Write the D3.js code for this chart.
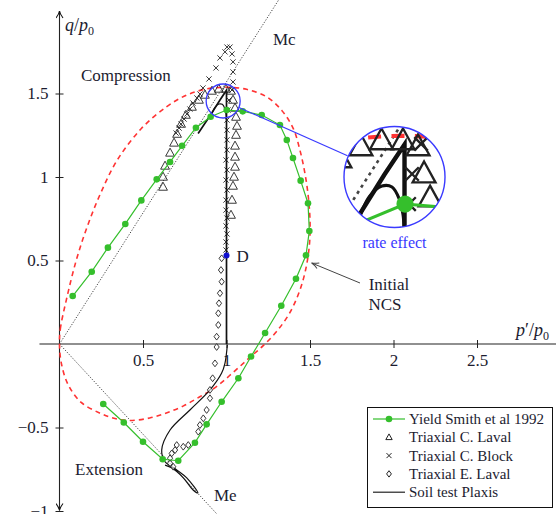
<!DOCTYPE html>
<html><head><meta charset="utf-8">
<script src="https://cdn.jsdelivr.net/npm/d3@7/dist/d3.min.js"></script>
<style>
html,body{margin:0;padding:0;background:#fff;}
svg{display:block;font-family:"Liberation Serif","DejaVu Serif",serif;}
</style></head><body>
<svg id="chart" width="556" height="514"></svg>
<script>
// ---------- data ----------
const xTicks=[0.5,1,1.5,2,2.5];
const xTickLabels=["0.5","1","1.5","2","2.5"];
const yTicks=[1.5,1,0.5,-0.5,-1];
const yTickLabels=["1.5","1","0.5","\u22120.5","\u22121"];
const McSlope=1.57, MeSlope=-1.08;
const McEnd=1.33, MeEnd=0.96;

const yieldSmith=[[0.079,0.287],[0.193,0.433],[0.290,0.577],[0.394,0.719],[0.490,0.860],[0.582,0.986],
 [0.662,1.090],[0.734,1.187],[0.817,1.295],[0.905,1.361],[1.001,1.401],[1.097,1.393],[1.211,1.371],
 [1.320,1.311],[1.361,1.222],[1.398,1.114],[1.444,0.978],[1.488,0.843],[1.496,0.677],[1.476,0.531],
 [1.416,0.391],[1.328,0.229],[1.231,0.066],[1.147,-0.075],[1.071,-0.205],[0.971,-0.346],[0.881,-0.481],
 [0.811,-0.591],[0.711,-0.699],[0.618,-0.690],[0.50,-0.585],[0.385,-0.470],[0.262,-0.359]];

const initialNCS=[[0,0],[0.005,0.09],[0.04,0.26],[0.10,0.50],[0.165,0.70],[0.245,0.90],[0.345,1.10],
 [0.49,1.29],[0.64,1.42],[0.76,1.49],[0.88,1.527],[1.0,1.537],[1.12,1.525],[1.24,1.48],[1.33,1.40],
 [1.40,1.29],[1.44,1.16],[1.47,1.02],[1.49,0.88],[1.50,0.74],[1.497,0.60],[1.475,0.45],[1.435,0.31],
 [1.375,0.18],[1.30,0.075],[1.22,-0.01],[1.14,-0.08],[1.04,-0.17],[0.94,-0.255],[0.84,-0.316],
 [0.74,-0.372],[0.64,-0.413],[0.54,-0.443],[0.42,-0.458],[0.32,-0.443],[0.24,-0.413],[0.13,-0.35],
 [0.05,-0.24],[0.01,-0.11]];

const triaxCLaval=[[0.620,0.940],[0.620,1.000],[0.632,1.066],[0.662,1.144],[0.686,1.204],[0.704,1.257],
 [0.728,1.317],[0.757,1.371],[0.793,1.419],[0.835,1.461],[0.871,1.491],[0.913,1.515],[0.954,1.527],
 [0.997,1.527],[1.027,1.515],[1.039,1.461],[1.051,1.413],[1.057,1.359],[1.063,1.305],[1.057,1.251],
 [1.051,1.186],[1.051,1.120],[1.051,1.060],[1.045,1.000],[1.039,0.946],[1.033,0.862],[1.027,0.772]];

const triaxCBlock=[[0.997,0.563],[0.997,0.611],[1.003,0.659],[0.997,0.707],[1.003,0.754],[0.997,0.802],
 [0.997,0.862],[1.003,0.922],[0.997,0.982],[1.003,1.042],[0.997,1.102],[1.003,1.162],[1.003,1.222],
 [1.003,1.281],[1.003,1.341],[1.009,1.401],[1.015,1.461],[1.033,1.521],[1.039,1.569],[1.039,1.629],
 [1.039,1.689],[1.033,1.737],[1.021,1.778],[1.003,1.778],[0.991,1.749],[0.961,1.713],[0.937,1.653],
 [0.895,1.587],[0.859,1.533],[0.841,1.497],[0.823,1.473],[0.799,1.443],[0.781,1.407],[0.763,1.377],
 [0.746,1.347],[0.728,1.317],[0.716,1.293],[0.698,1.263]];

const triaxELaval=[[0.971,0.513],[0.967,0.443],[0.971,0.373],[0.961,0.304],[0.955,0.244],[0.951,0.184],
 [0.951,0.114],[0.941,0.044],[0.941,-0.018],[0.931,-0.116],[0.917,-0.205],[0.901,-0.275],[0.901,-0.325],
 [0.881,-0.395],[0.861,-0.445],[0.841,-0.485],[0.831,-0.525],[0.771,-0.605],[0.741,-0.615],[0.702,-0.605],
 [0.692,-0.635],[0.672,-0.655],[0.662,-0.684],[0.662,-0.714],[0.681,-0.735]];

const plaxisCompression=[[1.0,0.0],[1.0,0.5],[1.0,1.0],[1.0,1.40],[1.0,1.52],[0.96,1.46],[0.91,1.38],[0.83,1.26]];
const plaxisArch=[[0.905,1.36],[0.93,1.416],[0.955,1.437],[0.975,1.435],[0.99,1.41],[0.997,1.38],[1.0,1.34]];
const plaxisExtension=[[1.005,-0.006],[0.991,-0.114],[0.971,-0.174],[0.901,-0.275],[0.781,-0.395],
 [0.662,-0.515],[0.612,-0.635],[0.632,-0.705],[0.702,-0.754],[0.762,-0.802],[0.829,-0.892],
 [0.80,-0.874],[0.74,-0.80],[0.674,-0.743],[0.632,-0.725]];

const pointD=[1.0,0.53];
const insetCenter=[0.98,1.455];
const legendLabels=["Yield Smith et al 1992","Triaxial C. Laval","Triaxial C. Block","Triaxial E. Laval","Soil test Plaxis"];

// ---------- drawing ----------
const W=556,H=514;
const svg=d3.select("#chart");
const TXT="#1c1c30";
const GREEN="#35bf2c", RED="#ff3333", BLUE="#3a3aff";
const x=d3.scaleLinear().domain([0,3]).range([59.5,560.5]);
const y=d3.scaleLinear().domain([-1,2]).range([511,10]);

const defs=svg.append("defs");
defs.append("marker").attr("id","arr").attr("viewBox","-8 -4 9 8").attr("refX",0).attr("refY",0)
 .attr("markerWidth",9).attr("markerHeight",8).attr("markerUnits","userSpaceOnUse").attr("orient","auto")
 .append("path").attr("d","M-7,-3.5 Q-3,-0.5 0,0 Q-3,0.5 -7,3.5").attr("fill","none").attr("stroke","#111").attr("stroke-width",1.1);
defs.append("marker").attr("id","arrg").attr("viewBox","-8 -4 9 8").attr("refX",0).attr("refY",0)
 .attr("markerWidth",9).attr("markerHeight",8).attr("markerUnits","userSpaceOnUse").attr("orient","auto")
 .append("path").attr("d","M-7,-3 Q-3,-0.5 0,0 Q-3,0.5 -7,3").attr("fill","none").attr("stroke","#444").attr("stroke-width",1);

// axes
const gx=svg.append("g").attr("transform",`translate(0,${y(0)})`)
 .call(d3.axisBottom(x).tickValues(xTicks).tickFormat((d,i)=>xTickLabels[i]).tickSizeOuter(0).tickSize(4));
gx.select(".domain").remove();
gx.selectAll(".tick line").attr("y1",-4).attr("y2",4).attr("stroke","#222");
gx.selectAll(".tick text").attr("y",10).attr("font-size",17).attr("fill",TXT).attr("font-family","Liberation Serif");
const gy=svg.append("g").attr("transform",`translate(${x(0)},0)`)
 .call(d3.axisLeft(y).tickValues(yTicks).tickFormat((d,i)=>yTickLabels[i]).tickSizeOuter(0).tickSize(4));
gy.select(".domain").remove();
gy.selectAll(".tick line").attr("x1",-4).attr("x2",4).attr("stroke","#222");
gy.selectAll(".tick text").attr("x",-11).attr("font-size",17).attr("fill",TXT).attr("font-family","Liberation Serif");

svg.append("line").attr("x1",x(-0.12)).attr("x2",W+2).attr("y1",y(0)).attr("y2",y(0))
 .attr("stroke","#222").attr("stroke-width",1.1);
svg.append("line").attr("x1",x(0)).attr("x2",x(0)).attr("y1",y(0)).attr("y2",y(2)+1)
 .attr("stroke","#222").attr("stroke-width",1.1).attr("marker-end","url(#arr)");
svg.append("line").attr("x1",x(0)).attr("x2",x(0)).attr("y1",y(0)).attr("y2",y(-1)-0.5)
 .attr("stroke","#222").attr("stroke-width",1.1).attr("marker-end","url(#arr)");

// axis titles
const qt=svg.append("text").attr("x",65).attr("y",31).attr("font-size",18).attr("fill",TXT);
qt.append("tspan").attr("font-style","italic").text("q");
qt.append("tspan").text("/");
qt.append("tspan").attr("font-style","italic").text("p");
qt.append("tspan").attr("font-size",12).attr("dy",4).text("0");
const pt=svg.append("text").attr("x",516).attr("y",336).attr("font-size",18).attr("fill",TXT);
pt.append("tspan").attr("font-style","italic").text("p");
pt.append("tspan").text("\u2032/");
pt.append("tspan").attr("font-style","italic").text("p");
pt.append("tspan").attr("font-size",12).attr("dy",4).text("0");

function render(g,sx,sy,k){
  const line=d3.line().x(d=>sx(d[0])).y(d=>sy(d[1]));
  // critical state lines
  g.append("line").attr("x1",sx(0)).attr("y1",sy(0)).attr("x2",sx(McEnd)).attr("y2",sy(McEnd*McSlope))
   .attr("stroke","#444").attr("stroke-width",1*k).attr("stroke-dasharray",`${1.2*k},${1.6*k}`);
  g.append("line").attr("x1",sx(0)).attr("y1",sy(0)).attr("x2",sx(MeEnd)).attr("y2",sy(MeEnd*MeSlope))
   .attr("stroke","#444").attr("stroke-width",1*k).attr("stroke-dasharray",`${1.2*k},${1.6*k}`);
  // initial NCS
  g.append("path").datum(initialNCS).attr("d",d3.line().x(d=>sx(d[0])).y(d=>sy(d[1])).curve(d3.curveCatmullRomClosed.alpha(0.5)))
   .attr("fill","none").attr("stroke",RED).attr("stroke-width",1.6*k).attr("stroke-dasharray",`${5*k},${4*k}`);
  // plaxis
  [plaxisCompression,plaxisArch,plaxisExtension].forEach((p,i)=>{
    g.append("path").datum(p).attr("d",i===0?line(p):d3.line().x(d=>sx(d[0])).y(d=>sy(d[1])).curve(d3.curveCatmullRom)(p))
     .attr("fill","none").attr("stroke","#111").attr("stroke-width",(i===0?1.7:1.2)*k);
  });
  // triaxial E laval diamonds
  g.selectAll(null).data(triaxELaval).join("path")
   .attr("d",`M0,${-3.4*k}L${2.6*k},0L0,${3.4*k}L${-2.6*k},0Z`)
   .attr("transform",d=>`translate(${sx(d[0])},${sy(d[1])})`)
   .attr("fill","#fff").attr("fill-opacity",0.6).attr("stroke","#222").attr("stroke-width",0.9*k);
  // triangles
  g.selectAll(null).data(triaxCLaval).join("path")
   .attr("d",`M0,${-4.8*k}L${4.4*k},${3.2*k}L${-4.4*k},${3.2*k}Z`)
   .attr("transform",d=>`translate(${sx(d[0])},${sy(d[1])})`)
   .attr("fill","none").attr("stroke","#222").attr("stroke-width",0.9*k);
  // crosses
  g.selectAll(null).data(triaxCBlock).join("path")
   .attr("d",`M${-2.6*k},${-2.6*k}L${2.6*k},${2.6*k}M${-2.6*k},${2.6*k}L${2.6*k},${-2.6*k}`)
   .attr("transform",d=>`translate(${sx(d[0])},${sy(d[1])})`)
   .attr("fill","none").attr("stroke","#222").attr("stroke-width",0.9*k);
  // yield Smith
  g.append("path").datum(yieldSmith).attr("d",line).attr("fill","none").attr("stroke",GREEN).attr("stroke-width",1.2*k);
  g.selectAll(null).data(yieldSmith).join("circle").attr("cx",d=>sx(d[0])).attr("cy",d=>sy(d[1]))
   .attr("r",3.3*k).attr("fill",GREEN);
}

const gMain=svg.append("g");
render(gMain,x,y,1);

// point D
svg.append("circle").attr("cx",x(pointD[0])).attr("cy",y(pointD[1])).attr("r",3).attr("fill","#1010d0");
svg.append("text").attr("x",x(pointD[0])+10).attr("y",y(pointD[1])+7).attr("font-size",17).attr("fill",TXT).text("D");

// labels
svg.append("text").attr("x",81).attr("y",81).attr("font-size",17).attr("fill",TXT).text("Compression");
svg.append("text").attr("x",75).attr("y",475).attr("font-size",17).attr("fill",TXT).text("Extension");
svg.append("text").attr("x",273).attr("y",45).attr("font-size",17).attr("fill",TXT).text("Mc");
svg.append("text").attr("x",214).attr("y",501).attr("font-size",17).attr("fill",TXT).text("Me");
svg.append("text").attr("x",389).attr("y",290).attr("font-size",17).attr("fill",TXT).attr("text-anchor","middle").text("Initial");
svg.append("text").attr("x",385).attr("y",310).attr("font-size",17).attr("fill",TXT).attr("text-anchor","middle").text("NCS");
svg.append("line").attr("x1",360).attr("y1",283).attr("x2",x(1.51)).attr("y2",y(0.485))
 .attr("stroke","#444").attr("stroke-width",1).attr("marker-end","url(#arrg)");

// inset
const cpx=x(insetCenter[0]), cpy=y(insetCenter[1]), r0=17;
const CX=394.5, CY=177, R=50.5, mag=3;
svg.append("line").attr("x1",cpx+r0*0.93).attr("y1",cpy+r0*0.38).attr("x2",CX-R*0.93).attr("y2",CY-R*0.42)
 .attr("stroke",BLUE).attr("stroke-width",1.2);
svg.append("circle").attr("cx",cpx).attr("cy",cpy).attr("r",r0).attr("fill","none").attr("stroke",BLUE).attr("stroke-width",1.3);
defs.append("clipPath").attr("id","insetClip").append("circle").attr("cx",CX).attr("cy",CY).attr("r",R);
const xi=d3.scaleLinear().domain([0,3]).range([CX+(x(0)-cpx)*mag,CX+(x(3)-cpx)*mag]);
const yi=d3.scaleLinear().domain([-1,2]).range([CY+(y(-1)-cpy)*mag,CY+(y(2)-cpy)*mag]);
svg.append("circle").attr("cx",CX).attr("cy",CY).attr("r",R).attr("fill","#fff");
const gIn=svg.append("g").attr("clip-path","url(#insetClip)");
render(gIn,xi,yi,2.6);
svg.append("circle").attr("cx",CX).attr("cy",CY).attr("r",R).attr("fill","none").attr("stroke",BLUE).attr("stroke-width",1.4);
svg.append("text").attr("x",CX).attr("y",248).attr("text-anchor","middle").attr("font-size",16).attr("fill",BLUE).text("rate effect");

// legend
const lg=svg.append("g");
const LX=367.5, LY=407.5, LW=185, LH=100;
lg.append("rect").attr("x",LX).attr("y",LY).attr("width",LW).attr("height",LH).attr("fill","#fff").attr("stroke","#111").attr("stroke-width",1);
const rowY=i=>419+i*18.3;
legendLabels.forEach((t,i)=>{
  lg.append("text").attr("x",409).attr("y",rowY(i)+5).attr("font-size",15).attr("fill",TXT).text(t);
});
lg.append("line").attr("x1",373).attr("x2",405).attr("y1",rowY(0)).attr("y2",rowY(0)).attr("stroke",GREEN).attr("stroke-width",1.2);
lg.append("circle").attr("cx",389).attr("cy",rowY(0)).attr("r",3.3).attr("fill",GREEN);
lg.append("path").attr("d","M0,-3.4L3.2,2.3L-3.2,2.3Z").attr("transform",`translate(389,${rowY(1)})`).attr("fill","none").attr("stroke","#222").attr("stroke-width",1);
lg.append("path").attr("d","M-2.5,-2.5L2.5,2.5M-2.5,2.5L2.5,-2.5").attr("transform",`translate(389,${rowY(2)})`).attr("fill","none").attr("stroke","#222").attr("stroke-width",1);
lg.append("path").attr("d","M0,-3.2L2.4,0L0,3.2L-2.4,0Z").attr("transform",`translate(389,${rowY(3)})`).attr("fill","none").attr("stroke","#222").attr("stroke-width",1);
lg.append("line").attr("x1",373).attr("x2",405).attr("y1",rowY(4)).attr("y2",rowY(4)).attr("stroke","#222").attr("stroke-width",1.2);
</script>
</body></html>
